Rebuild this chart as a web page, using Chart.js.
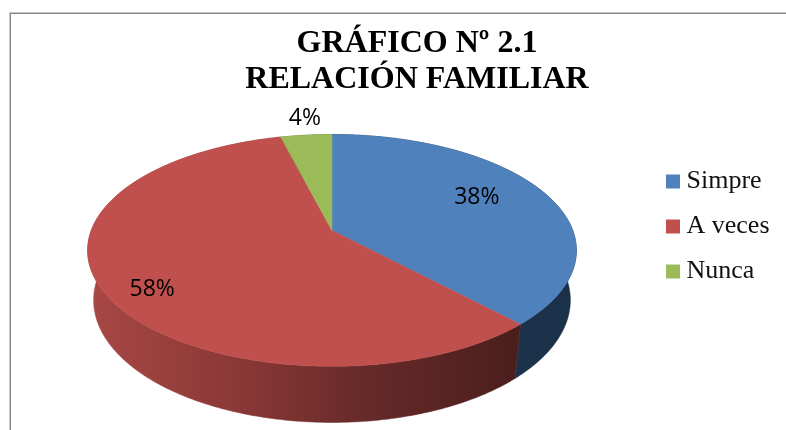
<!DOCTYPE html>
<html><head><meta charset="utf-8">
<style>html,body{margin:0;padding:0;background:#fff}canvas{display:block}</style>
<script src="https://cdn.jsdelivr.net/npm/chart.js@4"></script>
</head><body>
<canvas id="c" width="786" height="430"></canvas>
<script>
const titleLines = ['GRÁFICO Nº 2.1', 'RELACIÓN FAMILIAR'];
const categories = ['Simpre', 'A veces', 'Nunca'];
const values = [38, 58, 4];
const colors = ['#4F81BD', '#C0504D', '#9BBB59'];

/* projection of the pie disc: perspective view of a circle */
const top3d = {ax: 2.14, ay: 1, k: -0.1724, y0: 0};
const low3d = {ax: 2.09, ay: 1.058, k: -0.165, y0: 49.5};
const labelPlace = [
  {f: 0.66, dx: 3, dy: -7},
  {f: 0.80, dx: 1, dy: 13},
  {f: 1.20, dx: 3, dy: -1}
];
const sideShades = [
  [[0, '#1D3450'], [1, '#1B3149']],
  [[0, '#A84845'], [0.35, '#8A3836'], [0.62, '#682B2A'], [1, '#4A1E1C']],
  [[0, '#5E7336'], [1, '#5E7336']]
];

function project(el, p, theta, f) {
  const u = f * Math.sin(theta), v = -f * Math.cos(theta);
  const den = 1 + p.k * v, R = el.outerRadius;
  return [el.x + p.ax * R * u / den, el.y + p.y0 + p.ay * R * v / den];
}
function thetas(el) {
  const s = el.startAngle + Math.PI / 2, e = el.endAngle + Math.PI / 2, out = [];
  const n = Math.ceil((e - s) / 0.01);
  for (let i = 0; i <= n; i++) out.push(s + (e - s) * i / n);
  return out;
}
const pie3d = {
  id: 'pie3d',
  beforeDraw(chart) {
    const c = chart.ctx;
    c.save();
    c.fillStyle = '#fff'; c.fillRect(0, 0, chart.width, chart.height);
    c.strokeStyle = '#8A8A8A'; c.lineWidth = 1.5;
    c.beginPath(); c.moveTo(10.25, chart.height); c.lineTo(10.25, 13.25); c.lineTo(chart.width, 13.25); c.stroke();
    c.restore();
  },
  afterLayout(chart) {
    const l = chart.legend, t = chart.titleBlock;
    const dy = 226.5 - (l.top + l.bottom) / 2, dx = 653.5 - l.left;
    l.top += dy; l.bottom += dy; l.left += dx; l.right += dx;
    t.left += 22; t.right += 22;
  },
  beforeDatasetDraw(chart) {
    const c = chart.ctx, arcs = chart.getDatasetMeta(0).data;
    c.save();
    // sides
    arcs.forEach((el, i) => {
      const ts = thetas(el);
      c.beginPath();
      ts.forEach((t, j) => { const q = project(el, top3d, t, 1); j ? c.lineTo(q[0], q[1]) : c.moveTo(q[0], q[1]); });
      ts.slice().reverse().forEach(t => { const q = project(el, low3d, t, 1); c.lineTo(q[0], q[1]); });
      c.closePath();
      const xs = ts.map(t => project(el, top3d, t, 1)[0]).concat(ts.map(t => project(el, low3d, t, 1)[0]));
      const xa = Math.min(...xs), xb = Math.max(...xs);
      const g = c.createLinearGradient(xa, 0, xb, 0);
      sideShades[i].forEach(s => g.addColorStop(s[0], s[1]));
      c.fillStyle = g; c.strokeStyle = g; c.lineWidth = 0.5;
      c.fill(); c.stroke();
    });
    // top face
    arcs.forEach((el, i) => {
      c.beginPath();
      c.moveTo(el.x, el.y);
      thetas(el).forEach(t => { const q = project(el, top3d, t, 1); c.lineTo(q[0], q[1]); });
      c.closePath();
      c.fillStyle = colors[i]; c.strokeStyle = colors[i]; c.lineWidth = 0.5;
      c.fill(); c.stroke();
    });
    c.restore();
    return false;
  },
  afterDatasetsDraw(chart) {
    const c = chart.ctx, arcs = chart.getDatasetMeta(0).data;
    c.save();
    c.font = '23px "Open Sans"'; c.fillStyle = '#000'; c.textAlign = 'center'; c.textBaseline = 'middle';
    arcs.forEach((el, i) => {
      const mid = (el.startAngle + el.endAngle) / 2 + Math.PI / 2, lp = labelPlace[i];
      const q = project(el, top3d, mid, lp.f);
      c.fillText(values[i] + '%', q[0] + lp.dx, q[1] + lp.dy);
    });
    c.restore();
  }
};
new Chart(document.getElementById('c'), {
  type: 'pie',
  data: {labels: categories, datasets: [{data: values, backgroundColor: colors, borderWidth: 0, radius: 112.5}]},
  plugins: [pie3d],
  options: {
    responsive: false, animation: false,
    layout: {padding: {left: 5, right: 1, top: 0, bottom: 67}},
    plugins: {
      tooltip: {enabled: false},
      title: {display: true, text: titleLines, color: '#000', padding: {top: 25.5, bottom: 0},
        font: {family: '"Liberation Serif"', size: 32, weight: 'bold', lineHeight: 1.13}},
      legend: {position: 'right', align: 'center',
        labels: {color: '#111', boxWidth: 1, boxHeight: 1, padding: 19,
          font: {family: '"Liberation Serif"', size: 26},
          generateLabels(chart) {
            return categories.map((t, i) => ({text: t, fillStyle: colors[i], strokeStyle: colors[i], lineWidth: 13, index: i, fontColor: '#111'}));
          }}}
    }
  }
});
</script>
</body></html>
